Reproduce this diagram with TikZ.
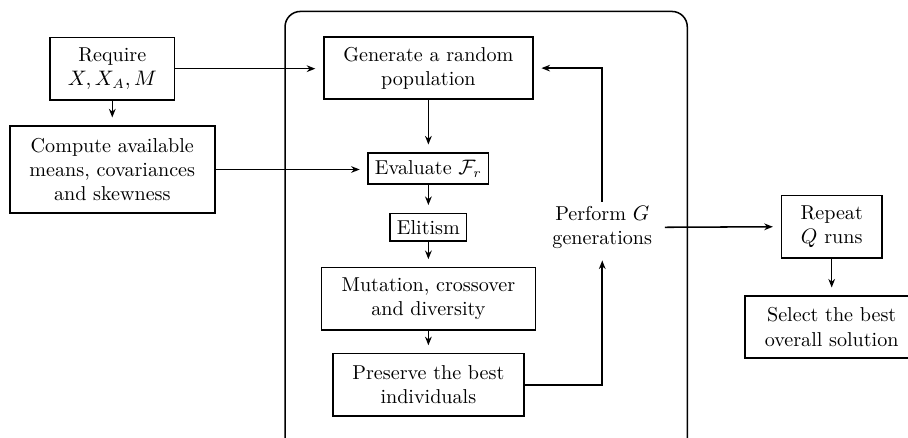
\documentclass[tikz,border=0pt]{standalone}
\usepackage{amsmath,amssymb}
\usetikzlibrary{positioning,arrows.meta,calc}

\begin{document}
\begin{tikzpicture}[
        every node/.style={font=\fontsize{10.5pt}{12.6pt}\selectfont},
        blk/.style={rectangle, draw, line width=0.8pt, align=center, inner sep=4pt, minimum height=1.14cm},
        sblk/.style={rectangle, draw, line width=0.8pt, align=center, inner sep=3.5pt},
        lbl/.style={align=center, inner sep=2pt, minimum width=2.28cm, minimum height=0.92cm},
        frm/.style={rectangle, draw, line width=0.8pt, rounded corners=8pt},
        arr/.style={-{Stealth[length=4.5pt,width=3.5pt]}, line width=0.8pt, shorten >=4pt},
        ln/.style={line width=0.8pt}
    ]
    \useasboundingbox (0,0) rectangle (16.66,-8.02);

    %% ---- outer loop frame ----
    \node[frm, minimum width=7.38cm, minimum height=8.2cm] (loop) at (8.92,-4.31) {};

    %% ---- inputs (left) ----
    \node[blk, minimum width=2.29cm] (req) at (2.06,-1.26) {Require\\$X, X_A, M$};
    \node[blk, minimum width=3.76cm, minimum height=1.6cm] (comp) at (2.06,-3.11)
          {Compute available\\means, covariances\\and skewness};
    \draw[arr] (req) -- (comp);

    %% ---- genetic algorithm ----
    \node[blk, minimum width=3.84cm] (gen) at (7.86,-1.25) {Generate a random\\population};
    \node[sblk] (eval) at (7.86,-3.09) {Evaluate $\mathcal{F}_r$};
    \node[sblk] (elit) at (7.86,-4.17) {Elitism};
    \node[blk, minimum width=3.93cm] (mut) at (7.86,-5.48) {Mutation, crossover\\and diversity};
    \node[blk, minimum width=3.50cm] (pres) at (7.86,-7.06) {Preserve the best\\individuals};
    \draw[arr] (gen) -- (eval);
    \draw[arr] (eval) -- (elit);
    \draw[arr] (elit) -- (mut);
    \draw[arr] (mut) -- (pres);

    % inputs into the loop
    \draw[arr] (req.east) -- (req.east -| gen.west);
    \draw[arr] (comp.east) -- (comp.east -| eval.west);

    % generations
    \node[lbl] (perf) at (11.05,-4.17) {Perform $G$\\generations};
    \draw[arr] (pres.east) -| (perf.south);
    \draw[arr] (perf.north) |- (gen.east);

    %% ---- runs (right) ----
    \node[blk, minimum width=1.85cm] (rep) at (15.26,-4.16) {Repeat\\$Q$ runs};
    \node[blk, minimum width=3.19cm] (sel) at (15.26,-6.0) {Select the best\\overall solution};
    \draw[arr] (perf.east) -- (rep.west);
    \draw[arr] (rep) -- (sel);

\end{tikzpicture}
\end{document}
